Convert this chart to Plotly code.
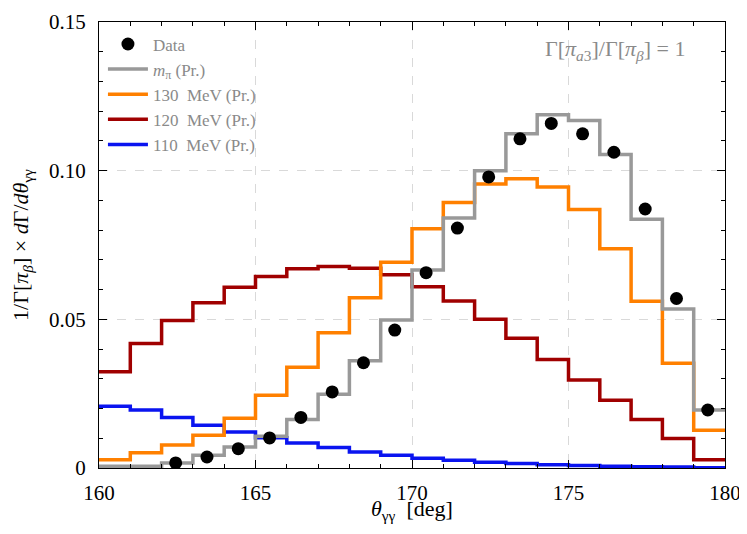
import plotly.graph_objects as go

# bin edges of the theta_gg histogram (deg)
bin_edges = list(range(160, 181))

# per-bin heights
m_pi = [0.0006, 0.0006, 0.0017, 0.0043, 0.0071, 0.0107, 0.0163, 0.0248, 0.0361, 0.0498,
        0.0666, 0.0841, 0.1000, 0.1124, 0.1188, 0.1169, 0.1054, 0.0837, 0.0535, 0.0195]
mev130 = [0.0028, 0.0051, 0.0077, 0.0110, 0.0167, 0.0245, 0.0339, 0.0455, 0.0573, 0.0692,
          0.0805, 0.0893, 0.0955, 0.0973, 0.0945, 0.0869, 0.0737, 0.0561, 0.0352, 0.0127]
mev120 = [0.0324, 0.0419, 0.0496, 0.0556, 0.0608, 0.0644, 0.0670, 0.0678, 0.0672, 0.0650,
          0.0610, 0.0562, 0.0500, 0.0436, 0.0365, 0.0296, 0.0228, 0.0163, 0.0099, 0.0028]
mev110 = [0.0208, 0.0195, 0.0170, 0.0144, 0.0121, 0.0102, 0.0084, 0.0069, 0.0054, 0.0043,
          0.0033, 0.0026, 0.0019, 0.0015, 0.0011, 0.0008, 0.0006, 0.0004, 0.0003, 0.0001]

# data points
data_x = [162.45, 163.45, 164.45, 165.45, 166.45, 167.45, 168.45, 169.45, 170.45,
          171.45, 172.45, 173.45, 174.45, 175.45, 176.45, 177.45, 178.45, 179.45]
data_y = [0.0017, 0.0037, 0.0065, 0.0101, 0.0170, 0.0256, 0.0354, 0.0464, 0.0657,
          0.0807, 0.0979, 0.1107, 0.1159, 0.1124, 0.1062, 0.0871, 0.0570, 0.0195]

xtick_vals = [160, 165, 170, 175, 180]
ytick_vals = [0, 0.05, 0.10, 0.15]
ytick_text = ["0", "0.05", "0.10", "0.15"]

FONT = "Liberation Serif"
TEXT_GRAY = "#8a8a8a"


def step(vals):
    # repeat last bin so the hv line closes at the right edge
    return vals + [vals[-1]]


fig = go.Figure()

series = [
    ("110&nbsp; MeV (Pr.)", mev110, "#0a14f0", 4),
    ("120&nbsp; MeV (Pr.)", mev120, "#a00000", 3),
    ("130&nbsp; MeV (Pr.)", mev130, "#ff8000", 2),
    ("<i>m</i><sub>π</sub> (Pr.)", m_pi, "#999999", 1),
]
for name, vals, color, rank in series:
    fig.add_trace(
        go.Scatter(
            x=bin_edges,
            y=step(vals),
            name=name,
            mode="lines",
            line=dict(color=color, width=3.5, shape="hv"),
            legendrank=rank,
        )
    )

fig.add_trace(
    go.Scatter(
        x=data_x,
        y=data_y,
        name="Data",
        mode="markers",
        marker=dict(color="black", size=13),
        legendrank=0,
    )
)

axis_common = dict(
    showline=True,
    linecolor="black",
    linewidth=1.3,
    mirror="allticks",
    ticks="inside",
    ticklen=8,
    tickcolor="black",
    tickfont=dict(family=FONT, size=21, color="black"),
    showgrid=True,
    gridcolor="#d9d9d9",
    griddash="dash",
    gridwidth=1,
    zeroline=False,
    automargin=False,
    ticklabeloverflow="allow",
)

fig.update_xaxes(
    range=[160, 180],
    tickvals=xtick_vals,
    ticklabelstandoff=6,
    minor=dict(dtick=1, ticks="inside", ticklen=4, tickcolor="black", showgrid=False),
    **axis_common,
)
fig.update_yaxes(
    range=[0, 0.15],
    tickvals=ytick_vals,
    ticktext=ytick_text,
    ticklabelstandoff=8,
    minor=dict(dtick=0.01, ticks="inside", ticklen=4, tickcolor="black", showgrid=False),
    title=dict(text="1/Γ[<i>π</i><sub><i>β</i></sub>] × <i>d</i>Γ/<i>dθ</i><sub>γγ</sub>",
               font=dict(family=FONT, size=22, color="black"), standoff=23),
    **axis_common,
)

# x-axis title as annotation (sits closer to the tick labels than axis title allows)
fig.add_annotation(
    x=0.5, y=0, xref="paper", yref="paper",
    xanchor="center", yanchor="middle", yshift=-42,
    text="<i>θ</i><sub>γγ</sub>  [deg]",
    showarrow=False,
    font=dict(family=FONT, size=22, color="black"),
)

fig.add_annotation(
    x=0.939, y=0.937, xref="paper", yref="paper",
    xanchor="right", yanchor="middle",
    text="Γ[<i>π</i><sub><i>a</i>3</sub>]/Γ[<i>π</i><sub><i>β</i></sub>] = 1",
    showarrow=False,
    font=dict(family=FONT, size=22, color=TEXT_GRAY),
)

# page body has an 8px margin, so the figure starts at (8, 8) in the window
fig.update_layout(
    width=739,
    height=518,
    margin=dict(l=91, r=22, t=14, b=58),
    plot_bgcolor="white",
    paper_bgcolor="white",
    showlegend=True,
    legend=dict(
        x=0.0063, y=0.99, xanchor="left", yanchor="top",
        bgcolor="rgba(0,0,0,0)",
        font=dict(family=FONT, size=17, color=TEXT_GRAY),
        itemwidth=40,
        tracegroupgap=0,
    ),
)

fig.write_html("out.html")
